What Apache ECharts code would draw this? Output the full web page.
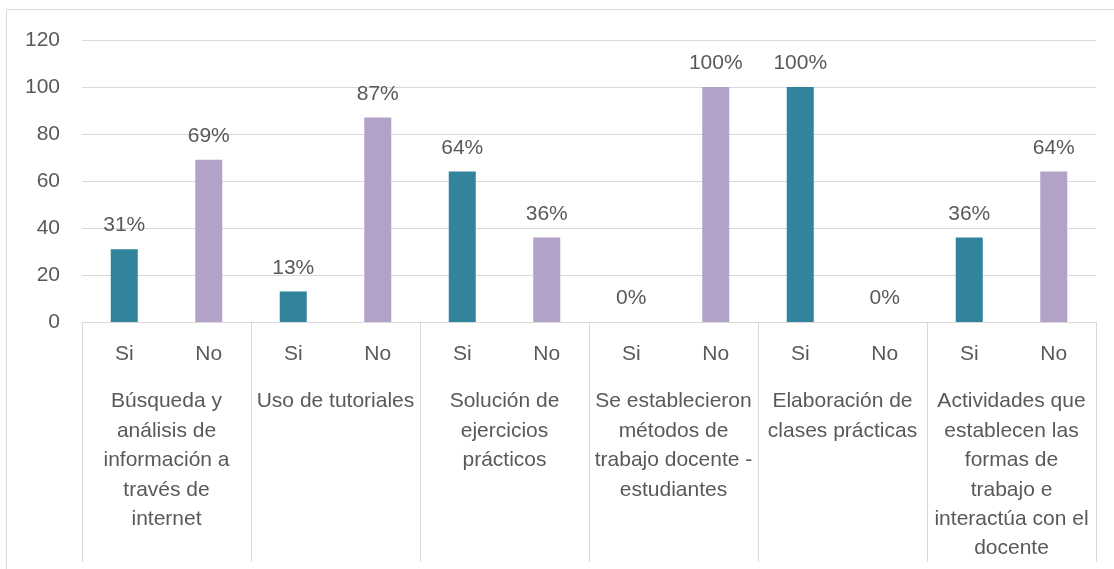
<!DOCTYPE html>
<html>
<head>
<meta charset="utf-8">
<script src="https://cdn.jsdelivr.net/npm/echarts@6/dist/echarts.min.js"></script>
<style>
html,body{margin:0;padding:0;background:#fff;}
#c{width:1114px;height:569px;}
</style>
</head>
<body>
<div id="c"></div>
<script>
const groups = [
  "Búsqueda y\nanálisis de\ninformación a\ntravés de\ninternet",
  "Uso de tutoriales",
  "Solución de\nejercicios\nprácticos",
  "Se establecieron\nmétodos de\ntrabajo docente -\nestudiantes",
  "Elaboración de\nclases prácticas",
  "Actividades que\nestablecen las\nformas de\ntrabajo e\ninteractúa con el\ndocente"
];
const subCats = ["Si", "No"];
const siValues = [31, 13, 64, 0, 100, 36];
const noValues = [69, 87, 36, 100, 0, 64];
const yTicks = { min: 0, max: 120, interval: 20 };

const colors = { Si: "#31849B", No: "#B3A2C7" };
const FONT = "Liberation Sans, Arial, sans-serif";
const TXT = "#595959";
const GRID = "#D9D9D9";

const xCats = [];
const barData = [];
groups.forEach((g, i) => {
  xCats.push(subCats[0]);
  barData.push({ value: siValues[i], itemStyle: { color: colors.Si } });
  xCats.push(subCats[1]);
  barData.push({ value: noValues[i], itemStyle: { color: colors.No } });
});

const chart = echarts.init(document.getElementById('c'), null, { renderer: 'canvas' });
chart.setOption({
  animation: false,
  backgroundColor: '#fff',
  graphic: [{
    type: 'rect',
    shape: { x: 6.5, y: 9.5, width: 1200, height: 700 },
    style: { fill: 'none', stroke: GRID, lineWidth: 1 },
    silent: true
  }],
  grid: { left: 82, right: 18, top: 40, bottom: 247, containLabel: false },
  xAxis: [{
    type: 'category',
    data: xCats,
    position: 'bottom',
    axisLine: { show: true, lineStyle: { color: GRID, width: 1 } },
    axisTick: { show: false },
    axisLabel: { interval: 0, margin: 22, fontSize: 21, fontFamily: FONT, color: TXT }
  }, {
    type: 'category',
    data: groups,
    position: 'bottom',
    axisLine: { show: false },
    axisTick: { show: true, length: 240, interval: 0, lineStyle: { color: GRID, width: 1 } },
    axisLabel: { interval: 0, margin: 65, fontSize: 21, lineHeight: 29.4, fontFamily: FONT, color: TXT, align: 'center' }
  }],
  yAxis: {
    type: 'value',
    min: yTicks.min, max: yTicks.max, interval: yTicks.interval,
    axisLine: { show: false },
    axisTick: { show: false },
    splitLine: { lineStyle: { color: GRID, width: 1 } },
    axisLabel: { margin: 22, fontSize: 21, fontFamily: FONT, color: TXT }
  },
  series: [{
    type: 'bar',
    xAxisIndex: 0,
    data: barData,
    barWidth: 27,
    label: {
      show: true, position: 'top', distance: 13,
      fontSize: 21, fontFamily: FONT, color: TXT,
      formatter: p => p.value + '%'
    }
  }]
});
</script>
</body>
</html>
